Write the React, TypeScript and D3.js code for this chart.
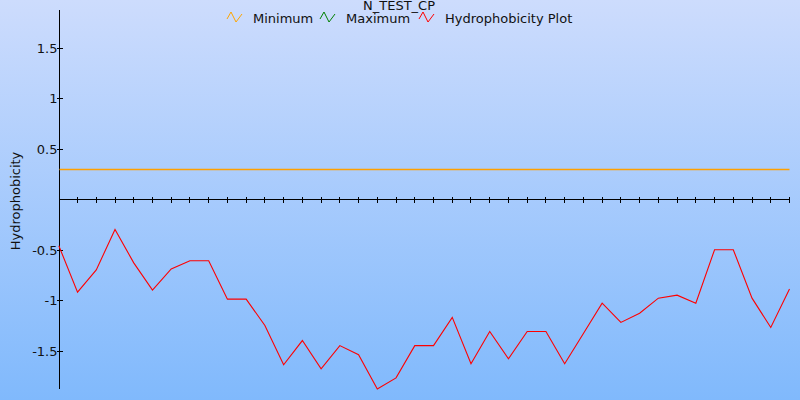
import React from "react";
import * as d3 from "d3";

// hydrophobicity values, one per residue window
const hydroValues = [
  -0.46, -0.92, -0.7, -0.3, -0.63, -0.9, -0.69, -0.61, -0.61, -0.99,
  -0.99, -1.25, -1.64, -1.4, -1.68, -1.45, -1.54, -1.88, -1.77, -1.45,
  -1.45, -1.17, -1.63, -1.31, -1.58, -1.31, -1.31, -1.63, -1.33, -1.03,
  -1.22, -1.13, -0.98, -0.95, -1.03, -0.5, -0.5, -0.98, -1.27, -0.89,
];
const minimumValue = [0.3];
const yTickValues = [-1.5, -1, -0.5, 0.5, 1, 1.5];
const legendItems = [
  { name: "Minimum", color: "#ffa500" },
  { name: "Maximum", color: "#008000" },
  { name: "Hydrophobicity Plot", color: "#ff0000" },
];
const title = "N_TEST_CP";

const W = 800;
const H = 400;
const FONT = "DejaVu Sans, Verdana, sans-serif";

export default function App() {
  const x = d3
    .scaleLinear()
    .domain([0, hydroValues.length - 1])
    .range([58.8, 789.5]);
  const y = d3.scaleLinear().domain([-1.88, 1.88]).range([389, 9.5]);

  const line = d3
    .line<number>()
    .x((_, i) => x(i))
    .y((d) => y(d));

  const y0 = Math.round(y(0)) + 0.5;
  const axisX = 59.5;
  const legendX = [227, 320, 419];
  const zig = "M0,7 L4,0 L9,10 L15,2";

  return (
    <div style={{ position: "absolute", left: 0, top: 0 }}>
      <svg width={W} height={H} style={{ display: "block" }}>
        <defs>
          <linearGradient id="bg" x1="0" y1="0" x2="0" y2="1">
            <stop offset="0%" stopColor="#cddcfd" />
            <stop offset="100%" stopColor="#80b9fc" />
          </linearGradient>
        </defs>
        <rect width={W} height={H} fill="url(#bg)" />

        {/* y axis */}
        <line x1={axisX} x2={axisX} y1={y.range()[1]} y2={y.range()[0]} stroke="#000" shapeRendering="crispEdges" />
        {yTickValues.map((t) => {
          const ty = Math.round(y(t)) + 0.5;
          return (
            <g key={t}>
              <line x1={axisX - 3} x2={axisX + 3} y1={ty} y2={ty} stroke="#000" shapeRendering="crispEdges" />
              <text x={57.5} y={ty} dy="0.36em" textAnchor="end" fontFamily={FONT} fontSize={13} fill="#111">
                {t}
              </text>
            </g>
          );
        })}

        {/* x axis at zero */}
        <line x1={axisX} x2={x(hydroValues.length - 1)} y1={y0} y2={y0} stroke="#000" shapeRendering="crispEdges" />
        {hydroValues.slice(1).map((_, k) => {
          const tx = Math.round(x(k + 1) - 0.5) + 0.5;
          return (
            <line key={k} x1={tx} x2={tx} y1={y0 - 2.5} y2={y0 + 3} stroke="#000" shapeRendering="crispEdges" />
          );
        })}

        {/* minimum threshold */}
        {minimumValue.map((m, i) => (
          <line
            key={i}
            x1={axisX}
            x2={x(hydroValues.length - 1)}
            y1={Math.round(y(m)) + 0.5}
            y2={Math.round(y(m)) + 0.5}
            stroke="#ffa000"
            strokeWidth={1.6}
          />
        ))}

        {/* hydrophobicity series */}
        <path d={line(hydroValues) ?? ""} fill="none" stroke="#ff0000" strokeWidth={1.1} />

        <text
          transform={`translate(19.5, 201) rotate(-90)`}
          textAnchor="middle"
          fontFamily={FONT}
          fontSize={13}
          fill="#111"
        >
          Hydrophobicity
        </text>

        <text x={399} y={9.5} textAnchor="middle" fontFamily={FONT} fontSize={13} fill="#111">
          {title}
        </text>

        {legendItems.map((it, i) => (
          <g key={it.name} transform={`translate(${legendX[i]}, 12)`}>
            <path d={zig} fill="none" stroke={it.color} strokeWidth={1} />
            <text x={26} y={10.5} fontFamily={FONT} fontSize={13} fill="#111">
              {it.name}
            </text>
          </g>
        ))}
      </svg>
    </div>
  );
}
